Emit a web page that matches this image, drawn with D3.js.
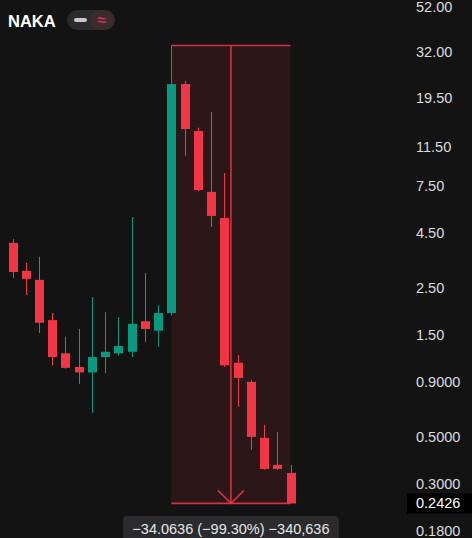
<!DOCTYPE html>
<html>
<head>
<meta charset="utf-8">
<script src="https://cdn.jsdelivr.net/npm/d3@7"></script>
<style>
  html, body { margin: 0; padding: 0; background: #131313; }
  #chart { width: 472px; height: 538px; overflow: hidden; }
  text { font-family: "Liberation Sans", Arial, sans-serif; }
</style>
</head>
<body>
<div id="chart"></div>
<script>
// candle data (22 sessions, oldest first)
var symbol = "NAKA";
var opens  = [4.06, 3.00, 2.72, 1.76, 1.23, 1.06, 1.00, 1.18, 1.23, 1.25, 1.74, 1.57, 1.90, 22.6, 13.6, 7.04, 5.31, 1.11, 0.903, 0.493, 0.368, 0.337];
var closes = [2.96, 2.75, 1.71, 1.18, 1.05, 1.00, 1.18, 1.25, 1.33, 1.69, 1.60, 1.90, 22.6, 13.9, 7.19, 5.43, 1.08, 0.942, 0.498, 0.352, 0.352, 0.2426];
var highs  = [4.23, 3.27, 3.49, 1.90, 1.47, 1.60, 2.26, 1.92, 1.82, 5.37, 2.93, 2.07, 34.30, 23.4, 14.1, 16.7, 8.64, 1.21, 0.92, 0.567, 0.525, 0.368];
var lows   = [2.78, 2.31, 1.53, 1.08, 1.04, 0.883, 0.646, 0.99, 1.20, 1.18, 1.39, 1.32, 1.85, 10.4, 7.1, 4.82, 1.06, 0.689, 0.433, 0.349, 0.349, 0.2426];

// right price axis
var tickValues = [52, 32, 19.5, 11.5, 7.5, 4.5, 2.5, 1.5, 0.9, 0.5, 0.3, 0.18];
var lastPrice = 0.2426;

// price range measurement (from candle 12 high to last close)
var measureFrom = 12, measureTo = 21;
var measureStart = 34.30, measureEnd = 0.2426;
var measureLabel = "\u221234.0636 (\u221299.30%) \u2212340,636";

var width = 472, height = 538;
var up = "#089981", down = "#f23645";

var data = opens.map(function(o, i) {
  return {i: i, open: o, close: closes[i], high: highs[i], low: lows[i]};
});

var svg = d3.select("#chart")
  .append("svg")
    .attr("width", width)
    .attr("height", height);

svg.append("rect")
    .attr("width", width)
    .attr("height", height)
    .attr("fill", "#131313");

// scales
var x = d3.scaleLinear()
    .domain([0, data.length - 1])
    .range([12.5, 290.5]);
var y = d3.scaleLog()
    .domain([52, 0.18])
    .range([7, 531]);
var bodyW = 9;

// measurement box background
var mx0 = x(measureFrom), mx1 = x(measureTo), mxm = (mx0 + mx1) / 2;
svg.append("rect")
    .attr("x", mx0)
    .attr("y", y(measureStart))
    .attr("width", mx1 - mx0)
    .attr("height", y(measureEnd) - y(measureStart))
    .attr("fill", down)
    .attr("fill-opacity", 0.11);

// candles
var candle = svg.append("g")
  .selectAll("g")
  .data(data)
  .enter()
  .append("g");

candle.append("line")
    .attr("x1", function(d) { return Math.round(x(d.i)) + 0.5; })
    .attr("x2", function(d) { return Math.round(x(d.i)) + 0.5; })
    .attr("y1", function(d) { return y(d.high); })
    .attr("y2", function(d) { return y(d.low); })
    .attr("stroke", function(d) { return d.close >= d.open ? up : down; })
    .attr("stroke-width", 1);

candle.append("rect")
    .attr("x", function(d) { return Math.round(x(d.i)) + 0.5 - bodyW / 2; })
    .attr("y", function(d) { return y(Math.max(d.open, d.close)); })
    .attr("width", bodyW)
    .attr("height", function(d) { return Math.max(1, y(Math.min(d.open, d.close)) - y(Math.max(d.open, d.close))); })
    .attr("fill", function(d) { return d.close >= d.open ? up : down; });

// measurement lines + arrow
var m = svg.append("g")
    .attr("stroke", down)
    .attr("stroke-opacity", 0.85)
    .attr("stroke-width", 1.6)
    .attr("fill", "none");
m.append("line").attr("x1", mx0).attr("x2", mx1).attr("y1", y(measureStart)).attr("y2", y(measureStart));
m.append("line").attr("x1", mx0).attr("x2", mx1).attr("y1", y(measureEnd)).attr("y2", y(measureEnd));
m.append("line").attr("x1", mxm).attr("x2", mxm).attr("y1", y(measureStart)).attr("y2", y(measureEnd));
m.append("path")
    .attr("d", "M" + (mxm - 13) + "," + (y(measureEnd) - 13) + "L" + mxm + "," + y(measureEnd) + "L" + (mxm + 13) + "," + (y(measureEnd) - 13));

// measurement label
svg.append("rect")
    .attr("x", mxm - 108)
    .attr("y", 516)
    .attr("width", 216)
    .attr("height", 34)
    .attr("rx", 4)
    .attr("fill", "#2b2b2e");
svg.append("text")
    .attr("x", mxm)
    .attr("y", 534)
    .attr("text-anchor", "middle")
    .attr("fill", "#e6e6e6")
    .style("font-size", "14.5px")
    .text(measureLabel);

// right axis
var fmt = function(v) { return v >= 1 ? d3.format(".2f")(v) : d3.format(".4f")(v); };
var axis = svg.append("g")
    .attr("transform", "translate(410,0)")
    .call(d3.axisRight(y).tickValues(tickValues).tickFormat(fmt).tickSize(0).tickPadding(6));
axis.select(".domain").remove();
axis.selectAll("text")
    .attr("fill", "#dcdcdc")
    .style("font-size", "14.5px")
    .style("font-family", "'Liberation Sans', Arial, sans-serif");

// last price tag
svg.append("rect")
    .attr("x", 407)
    .attr("y", y(lastPrice) - 10)
    .attr("width", 65)
    .attr("height", 20)
    .attr("fill", "#000000");
svg.append("text")
    .attr("x", 416)
    .attr("y", y(lastPrice))
    .attr("dy", "0.35em")
    .attr("fill", "#ffffff")
    .style("font-size", "14.5px")
    .text(fmt(lastPrice));

// title + toggle pill
svg.append("text")
    .attr("x", 8)
    .attr("y", 27)
    .attr("fill", "#ffffff")
    .style("font-size", "16.5px")
    .style("font-weight", "bold")
    .text(symbol);
svg.append("rect")
    .attr("x", 67).attr("y", 10).attr("width", 48).attr("height", 20).attr("rx", 10)
    .attr("fill", "#2b2b2b");
svg.append("rect")
    .attr("x", 90).attr("y", 10).attr("width", 25).attr("height", 20).attr("rx", 10)
    .attr("fill", down).attr("fill-opacity", 0.08);
svg.append("rect")
    .attr("x", 74).attr("y", 18).attr("width", 13).attr("height", 4).attr("rx", 2)
    .attr("fill", "#c8c8c8");
svg.append("text")
    .attr("x", 101.5)
    .attr("y", 25)
    .attr("text-anchor", "middle")
    .attr("fill", "#d2305a")
    .style("font-size", "15px")
    .style("font-weight", "bold")
    .text("\u2248");
</script>
</body>
</html>
